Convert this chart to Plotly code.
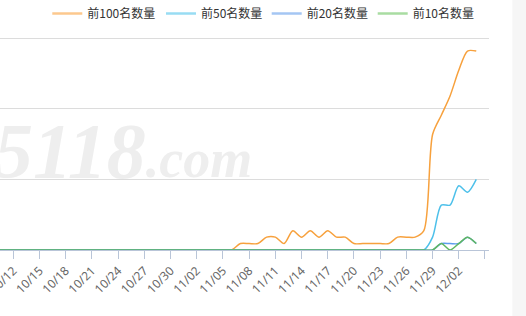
import plotly.graph_objects as go

YEAR = "2019"

DATES = [
    "10/10", "10/11", "10/12", "10/13", "10/14", "10/15", "10/16", "10/17", "10/18", "10/19",
    "10/20", "10/21", "10/22", "10/23", "10/24", "10/25", "10/26", "10/27", "10/28", "10/29",
    "10/30", "10/31", "11/01", "11/02", "11/03", "11/04", "11/05", "11/06", "11/07", "11/08",
    "11/09", "11/10", "11/11", "11/12", "11/13", "11/14", "11/15", "11/16", "11/17", "11/18",
    "11/19", "11/20", "11/21", "11/22", "11/23", "11/24", "11/25", "11/26", "11/27", "11/28",
    "11/29", "11/30", "12/01", "12/02", "12/03", "12/04",
]

TOP100 = [
    0, 0, 0, 0, 0, 0, 0, 0, 0, 0,
    0, 0, 0, 0, 0, 0, 0, 0, 0, 0,
    0, 0, 0, 0, 0, 0, 0, 0, 1, 1,
    1, 2, 2, 1, 3, 2, 3, 2, 3, 2,
    2, 1, 1, 1, 1, 1, 2, 2, 2, 3,
    18, 21, 24, 28, 31, 31,
]
TOP50 = [
    0, 0, 0, 0, 0, 0, 0, 0, 0, 0,
    0, 0, 0, 0, 0, 0, 0, 0, 0, 0,
    0, 0, 0, 0, 0, 0, 0, 0, 0, 0,
    0, 0, 0, 0, 0, 0, 0, 0, 0, 0,
    0, 0, 0, 0, 0, 0, 0, 0, 0, 0,
    2, 7, 7, 10, 9, 11,
]
TOP20 = [
    0, 0, 0, 0, 0, 0, 0, 0, 0, 0,
    0, 0, 0, 0, 0, 0, 0, 0, 0, 0,
    0, 0, 0, 0, 0, 0, 0, 0, 0, 0,
    0, 0, 0, 0, 0, 0, 0, 0, 0, 0,
    0, 0, 0, 0, 0, 0, 0, 0, 0, 0,
    0, 1, 1, 1, 2, 1,
]
TOP10 = [
    0, 0, 0, 0, 0, 0, 0, 0, 0, 0,
    0, 0, 0, 0, 0, 0, 0, 0, 0, 0,
    0, 0, 0, 0, 0, 0, 0, 0, 0, 0,
    0, 0, 0, 0, 0, 0, 0, 0, 0, 0,
    0, 0, 0, 0, 0, 0, 0, 0, 0, 0,
    0, 1, 0, 1, 2, 1,
]

SERIES_NAMES = ["前100名数量", "前50名数量", "前20名数量", "前10名数量"]
SERIES_VALUES = [TOP100, TOP50, TOP20, TOP10]
COLORS = ["#f7a13d", "#4dc0ea", "#5e9ded", "#5fb760"]
LEGEND_COLORS = ["#fcc88e", "#98dcf3", "#a4c6f3", "#a9dca2"]

TICK_DATES = [
    "10/12", "10/15", "10/18", "10/21", "10/24", "10/27", "10/30", "11/02", "11/05", "11/08",
    "11/11", "11/14", "11/17", "11/20", "11/23", "11/26", "11/29", "12/02", "12/05",
]
TICK_TEXT = [
    "10/12", "10/15", "10/18", "10/21", "10/24", "10/27", "10/30", "11/02", "11/05", "11/08",
    "11/11", "11/14", "11/17", "11/20", "11/23", "11/26", "11/29", "12/02", "",
]

Y_MAX = 33
Y_STEP = 11
Y_TOP = 33.34  # a little head-room so the top grid line is drawn


def to_date(md):
    m, d = md.split("/")
    return f"{YEAR}-{m}-{d}"


x_dates = [to_date(d) for d in DATES]

W, H = 526, 316
M_L, M_R, M_T, M_B = 0, 37.3, 36, 66
PLOT_W = W - M_L - M_R
PLOT_H = H - M_T - M_B

fig = go.Figure()
legend_ids = ["legend", "legend2", "legend3", "legend4"]
for name, vals, col in zip(SERIES_NAMES, SERIES_VALUES, COLORS):
    fig.add_trace(go.Scatter(
        x=x_dates, y=vals, name=name, mode="lines",
        line=dict(color=col, width=1.5, shape="spline", smoothing=0.8),
        showlegend=False, hoverinfo="skip",
    ))
# legend entries (pale symbols, as in the reference legend)
for name, col, lid in zip(SERIES_NAMES, LEGEND_COLORS, legend_ids):
    fig.add_trace(go.Scatter(
        x=[None], y=[None], name=name, mode="lines",
        line=dict(color=col, width=2.5), legend=lid, showlegend=True, hoverinfo="skip",
    ))

legend_text_x = [87.3, 201.0, 306.7, 412.7]
legend_common = dict(
    orientation="h", xref="container", yref="container",
    xanchor="left", yanchor="middle", bgcolor="rgba(0,0,0,0)",
    font=dict(family="Noto Sans CJK SC, Noto Sans, sans-serif", size=12, color="#333333"),
)
layout_legends = {}
for lid, tx in zip(legend_ids, legend_text_x):
    layout_legends[lid] = dict(legend_common, x=(tx - 40) / W, y=1 - 13.5 / H)

fig.update_layout(
    width=W, height=H,
    margin=dict(l=M_L, r=M_R, t=M_T, b=M_B, autoexpand=False),
    paper_bgcolor="white", plot_bgcolor="white",
    showlegend=True,
    **layout_legends,
    xaxis=dict(
        type="date",
        range=[f"{YEAR}-10-10 11:26", f"{YEAR}-12-05 11:02"],
        tickmode="array",
        tickvals=[to_date(d) for d in TICK_DATES],
        ticktext=TICK_TEXT,
        tickangle=-45,
        ticklabeloverflow="allow",
        ticks="outside", ticklen=8, tickcolor="#b9c5d8", tickwidth=1,
        showline=True, linecolor="#b9c5d8", linewidth=1,
        showgrid=False, zeroline=False,
        tickfont=dict(family="Noto Sans, sans-serif", size=12, color="#666666"),
        automargin=False, fixedrange=True,
    ),
    yaxis=dict(
        range=[0, Y_TOP], dtick=Y_STEP, tick0=0,
        showgrid=True, gridcolor="#dcdcdc", gridwidth=1,
        showticklabels=False, ticks="", zeroline=False, showline=False,
        automargin=False, fixedrange=True,
    ),
)

# watermark
fig.add_annotation(
    xref="paper", yref="paper", x=-8 / PLOT_W, y=(250 - 196) / (250 - 38) * (Y_MAX / Y_TOP),
    xanchor="left", yanchor="bottom", showarrow=False,
    text="<span style='font-size:78px'>5118</span><span style='font-size:54px'>.com</span>",
    font=dict(family="Liberation Serif, serif", color="#eeeeee", style="italic", weight="bold"),
)

# right side gray strip of the page
fig.add_shape(
    type="rect", xref="paper", yref="paper",
    x0=(512 - M_L) / PLOT_W, x1=(W - M_L) / PLOT_W,
    y0=-M_B / PLOT_H, y1=1 + M_T / PLOT_H,
    fillcolor="#f6f6f6", line=dict(width=0), layer="above",
)

fig.write_html("out.html")
